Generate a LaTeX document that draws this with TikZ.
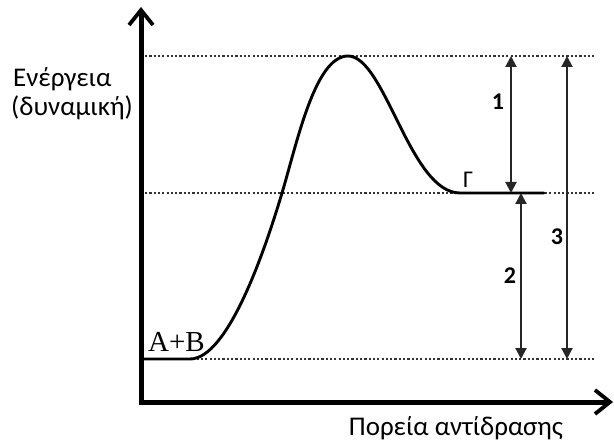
\documentclass[tikz,border=0pt]{standalone}
\usepackage{fontspec}
\setmainfont{Carlito}
\newfontfamily\serifAB{Liberation Serif}
\usetikzlibrary{arrows.meta}
\begin{document}
\begin{tikzpicture}[x=1pt,y=-1pt,
  axisline/.style={line width=5pt,-{Straight Barb[length=15pt,width=24pt,line width=3.8pt]}},
  guide/.style={draw=black!80,line width=2.6pt,dash pattern=on 2.2pt off 2.1pt},
  dimarrow/.style={line width=2.1pt,draw=black!85,{Triangle[length=11pt,width=11pt]}-{Triangle[length=11pt,width=11pt]}},
  lbl/.style={font=\fontsize{27}{30}\selectfont,inner sep=0pt},
  num/.style={font=\fontsize{24}{26}\selectfont\bfseries,inner sep=0pt}]
\useasboundingbox (0,0) rectangle (614,441);
% coordinates
\coordinate (ytip) at (141,7);
\coordinate (xtip) at (613,402);
\coordinate (tl) at (145,56);
\coordinate (tr) at (595,56);
\coordinate (ml) at (145,193);
\coordinate (mr) at (595,193);
\coordinate (bl) at (145,359);
\coordinate (br) at (595,359);
% guides
\draw[guide] (tl) -- (tr);
\draw[guide] (ml) -- (mr);
\draw[guide] (bl) -- (br);
% curve
\coordinate (start) at (143,359);
\coordinate (cross) at (282,193);
\coordinate (peak) at (348,56);
\coordinate (prod) at (460,193);
\coordinate (prodend) at (544,193);
\draw[line width=2.9pt,line cap=round] (start) -- (190,359)
  .. controls (228,359) and (265,250) .. (cross)
  .. controls (297,143) and (315,56) .. (peak)
  .. controls (385,56) and (410,193) .. (prod) -- (prodend);
% axes
\draw[axisline] (141,404.5) -- (ytip);
\draw[axisline] (138.5,402) -- (xtip);
% dimension arrows
\coordinate (a1t) at (511,56);
\coordinate (a1b) at (511,193);
\coordinate (a2t) at (521,193);
\coordinate (a2b) at (521,359);
\coordinate (a3t) at (567,56);
\coordinate (a3b) at (567,359);
\draw[dimarrow] (a1t) -- (a1b);
\draw[dimarrow] (a2t) -- (a2b);
\draw[dimarrow] (a3t) -- (a3b);
\node[num] (n1) at (498,102) {1};
\node[num] (n2) at (510,276) {2};
\node[num] (n3) at (557,237) {3};
% labels
\node[lbl,anchor=base west] (ener) at (13,87) {Ενέργεια};
\node[lbl,anchor=base west] (dyn) at (11,116) {(δυναμική)};
\node[inner sep=0pt,font=\fontsize{24}{26}\selectfont] (gamma) at (468,180) {Γ};
\node[inner sep=0pt,anchor=base west,font=\serifAB\fontsize{29}{32}\selectfont] (ab) at (148,352) {A+B};
\node[lbl,anchor=base] (xl) at (456,435) {Πορεία αντίδρασης};
\end{tikzpicture}
\end{document}
